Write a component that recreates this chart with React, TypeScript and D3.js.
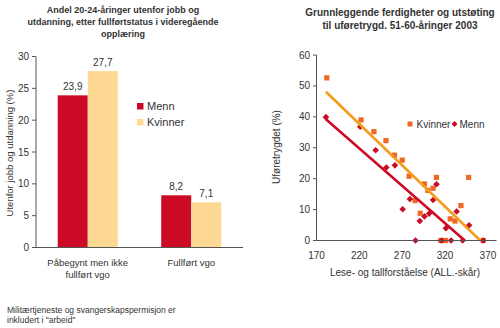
import React from "react";
import * as d3 from "d3";

// ---- Left chart data ----
const barCategories = ["Påbegynt men ikke|fullført vgo", "Fullført vgo"];
const barSeries = ["Menn", "Kvinner"];
const mennValues = [23.9, 8.2];
const kvinnerValues = [27.7, 7.1];
const barYTicks = [0, 5, 10, 15, 20, 25, 30];

// ---- Right chart data ----
const kvinnerX = [182, 222, 237, 251, 261, 270, 278, 296, 310, 347.5, 300, 306, 285, 338.5, 291, 326, 331.5, 315, 320.5, 364.5];
const kvinnerY = [52.6, 39, 35.2, 32.3, 27.6, 26, 20.8, 18.3, 20.4, 20.4, 16.2, 16.9, 12.9, 11.3, 8.8, 7, 6.3, 0, 0, 0];
const mennX = [181, 221, 239, 251.5, 261.5, 310, 306, 279, 270.5, 333.5, 296, 301.5, 290.5, 348, 321, 285.5, 316, 327, 340.5, 364.5];
const mennY = [39.9, 36.8, 29.2, 23.6, 24.3, 18.2, 13.1, 13.4, 10.1, 9.4, 7.8, 8.7, 6.3, 4.9, 4.0, 0, 0, 0, 0, 0];
const trendKvinnerX = [181, 361];
const trendKvinnerY = [48.1, 0];
const trendMennX = [181, 343];
const trendMennY = [39.2, 0];
const scatterXTicks = [170, 220, 270, 320, 370];
const scatterYTicks = [0, 10, 20, 30, 40, 50, 60];

const FONT = "'Liberation Sans', Arial, Helvetica, sans-serif";
const RED = "#CC0A26";
const PEACH = "#FDD993";
const ORANGE_SQ = "#EE6A24";
const ORANGE_LINE = "#F59C1A";
const AXIS = "#555";
const TEXT = "#333";

export default function App() {
  // Left chart scales
  const lx = d3.scaleBand().domain(barCategories).range([36, 243]).paddingInner(0.42).paddingOuter(0.21);
  const lsub = d3.scaleBand().domain(barSeries).range([0, lx.bandwidth()]);
  const ly = d3.scaleLinear().domain([0, 30]).range([247.5, 56.5]);
  const barColor: Record<string, string> = { Menn: RED, Kvinner: PEACH };
  const seriesVals: Record<string, number[]> = { Menn: mennValues, Kvinner: kvinnerValues };

  // Right chart scales
  const rx = d3.scaleLinear().domain([170, 380]).range([316.5, 496.5]);
  const ry = d3.scaleLinear().domain([0, 60]).range([240.5, 55]);
  const line = d3
    .line<[number, number]>()
    .x((d) => rx(d[0]))
    .y((d) => ry(d[1]));
  const kTrend = trendKvinnerX.map((x, i) => [x, trendKvinnerY[i]] as [number, number]);
  const mTrend = trendMennX.map((x, i) => [x, trendMennY[i]] as [number, number]);
  const diamond = (cx: number, cy: number, r: number) =>
    `M${cx},${cy - r}L${cx + r},${cy}L${cx},${cy + r}L${cx - r},${cy}Z`;

  return (
    <svg
      width={500}
      height={328}
      style={{ position: "absolute", left: 0, top: 0, fontFamily: FONT }}
    >
      <rect width={500} height={328} fill="#fff" />
      {/* ===== Left chart ===== */}
      <g fill={TEXT} fontWeight="bold" fontSize={9} textAnchor="middle">
        <text x={123} y={13}>Andel 20-24-åringer utenfor jobb og</text>
        <text x={123} y={25}>utdanning, etter fullførtstatus i videregående</text>
        <text x={123} y={37}>opplæring</text>
      </g>
      {barCategories.map((c, ci) =>
        barSeries.map((s) => {
          const v = seriesVals[s][ci];
          const x = (lx(c) as number) + (lsub(s) as number);
          return (
            <g key={c + s}>
              <rect x={x} y={ly(v)} width={lsub.bandwidth()} height={ly(0) - ly(v)} fill={barColor[s]} />
              <text x={x + lsub.bandwidth() / 2} y={ly(v) - 5} textAnchor="middle" fontSize={10} fill={TEXT}>
                {v.toFixed(1).replace(".", ",")}
              </text>
            </g>
          );
        })
      )}
      <line x1={36} x2={36} y1={ly(30)} y2={ly(0)} stroke={AXIS} />
      <line x1={36} x2={243} y1={ly(0)} y2={ly(0)} stroke={AXIS} />
      {barYTicks.map((t) => (
        <g key={t}>
          <line x1={32} x2={36} y1={ly(t)} y2={ly(t)} stroke={AXIS} />
          <text x={29} y={ly(t) + 3.5} textAnchor="end" fontSize={10} fill={TEXT}>
            {t}
          </text>
        </g>
      ))}
      {barCategories.map((c) => {
        const cx = (lx(c) as number) + lx.bandwidth() / 2;
        return (
          <text key={c} x={cx} textAnchor="middle" fontSize={9.5} fill={TEXT}>
            {c.split("|").map((l, i) => (
              <tspan key={i} x={cx} y={266 + i * 12}>
                {l}
              </tspan>
            ))}
          </text>
        );
      })}
      <text transform="translate(13,153) rotate(-90)" textAnchor="middle" fontSize={9.5} fill={TEXT}>
        Utenfor jobb og utdanning (%)
      </text>
      {barSeries.map((s, i) => (
        <g key={s} transform={`translate(137,${103 + i * 16})`}>
          <rect width={6.5} height={6.5} fill={barColor[s]} />
          <text x={10} y={7} fontSize={11} fill={TEXT}>
            {s}
          </text>
        </g>
      ))}
      <g fontSize={8.5} fill={TEXT}>
        <text x={7} y={313}>Militærtjeneste og svangerskapspermisjon er</text>
        <text x={7} y={323}>inkludert i "arbeid"</text>
      </g>

      {/* ===== Right chart ===== */}
      <g fill={TEXT} fontWeight="bold" fontSize={10} textAnchor="middle">
        <text x={400} y={16}>Grunnleggende ferdigheter og utstøting</text>
        <text x={400} y={28.5}>til uføretrygd. 51-60-åringer 2003</text>
      </g>
      {scatterYTicks.map((t) => (
        <g key={t}>
          <line x1={313} x2={316.5} y1={ry(t)} y2={ry(t)} stroke={AXIS} />
          <text x={310} y={ry(t) + 3.5} textAnchor="end" fontSize={10} fill={TEXT}>
            {t}
          </text>
        </g>
      ))}
      {scatterXTicks.map((t) => (
        <text key={t} x={rx(t)} y={259} textAnchor="middle" fontSize={10} fill={TEXT}>
          {t}
        </text>
      ))}
      <text x={405} y={276} textAnchor="middle" fontSize={10} fill={TEXT}>
        Lese- og tallforståelse (ALL.-skår)
      </text>
      <text transform="translate(280,147) rotate(-90)" textAnchor="middle" fontSize={10} fill={TEXT}>
        Uføretrygdet (%)
      </text>
      {kvinnerX.map((x, i) => (
        <rect key={"k" + i} x={rx(x) - 2.6} y={ry(kvinnerY[i]) - 2.6} width={5.2} height={5.2} fill={ORANGE_SQ} />
      ))}
      {mennX.map((x, i) => (
        <path key={"m" + i} d={diamond(rx(x), ry(mennY[i]), 3.3)} fill={RED} />
      ))}
      <path d={line(kTrend) as string} stroke={ORANGE_LINE} strokeWidth={2.6} fill="none" />
      <path d={line(mTrend) as string} stroke={RED} strokeWidth={2.6} fill="none" />
      <line x1={316.5} x2={316.5} y1={ry(60)} y2={ry(0)} stroke={AXIS} />
      <line x1={316.5} x2={496.5} y1={ry(0)} y2={ry(0)} stroke={AXIS} />
      <g>
        <rect x={407.5} y={121.5} width={5} height={5} fill={ORANGE_SQ} />
        <text x={416.5} y={128} fontSize={10} fill={TEXT}>
          Kvinner
        </text>
        <path d={diamond(454.5, 124, 3)} fill={RED} />
        <text x={459.5} y={128} fontSize={10} fill={TEXT}>
          Menn
        </text>
      </g>
    </svg>
  );
}
